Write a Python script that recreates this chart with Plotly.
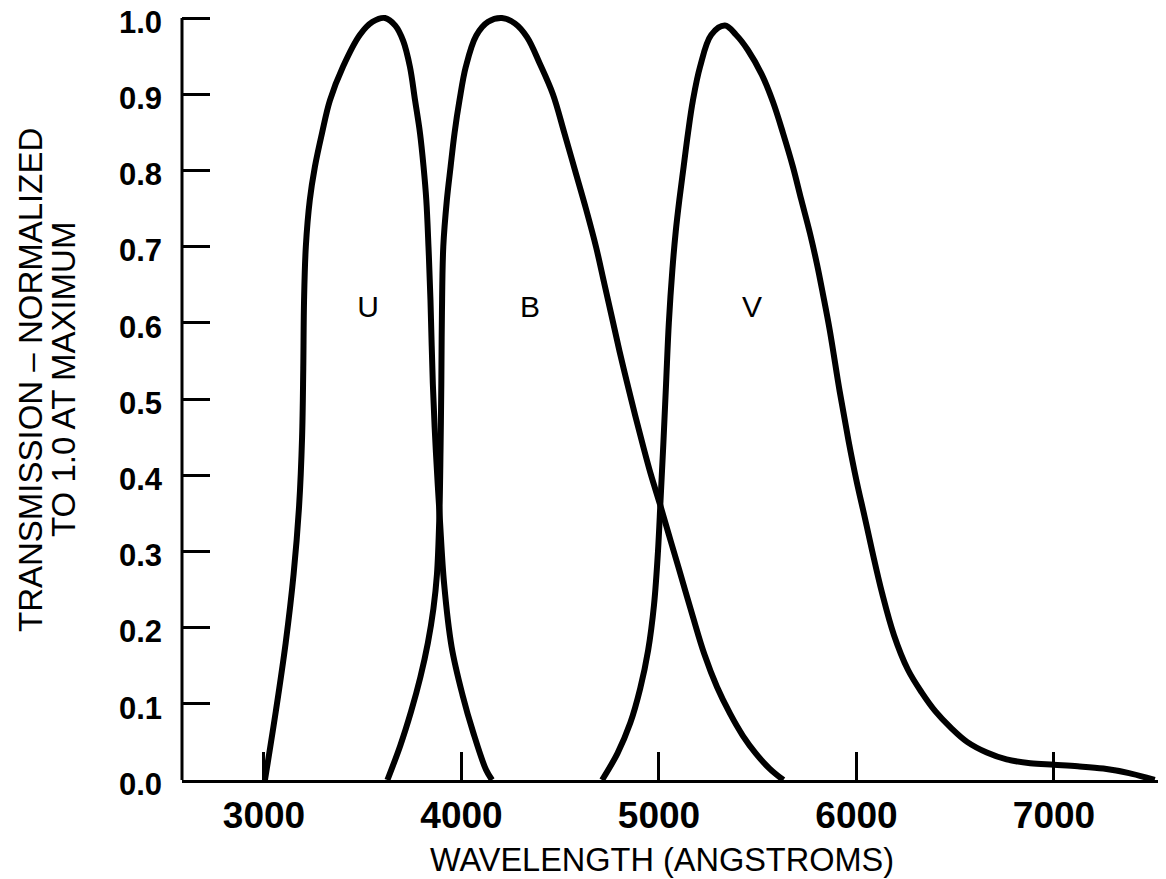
import plotly.graph_objects as go

# ---- data (wavelength in Angstroms, normalized transmission) ----
u_wave = [3005, 3060, 3110, 3150, 3178, 3193, 3199, 3203, 3212, 3232, 3258, 3294, 3334,
          3400, 3486, 3550, 3613, 3665, 3705, 3739, 3765, 3790, 3808, 3822, 3833, 3843,
          3855, 3870, 3890, 3912, 3950, 4005, 4060, 4125, 4155]
u_trans = [0.0, 0.09, 0.18, 0.27, 0.36, 0.45, 0.54, 0.63, 0.70, 0.761, 0.805, 0.849, 0.892,
           0.936, 0.978, 0.995, 1.0, 0.99, 0.97, 0.936, 0.892, 0.849, 0.805, 0.761, 0.70, 0.63,
           0.52, 0.433, 0.345, 0.258, 0.175, 0.112, 0.062, 0.013, 0.0]

b_wave = [3625, 3690, 3745, 3792, 3830, 3858, 3876, 3888, 3894, 3898, 3901, 3908, 3926, 3945,
          3965, 3990, 4022, 4075, 4135, 4205, 4270, 4332, 4397, 4463, 4520, 4575, 4630, 4681,
          4722, 4762, 4800, 4838, 4880, 4920, 4960, 5005, 5050, 5100, 5172, 5230, 5294, 5360,
          5425, 5490, 5560, 5630]
b_trans = [0.0, 0.045, 0.09, 0.135, 0.18, 0.225, 0.27, 0.345, 0.433, 0.52, 0.61, 0.70, 0.761, 0.805,
           0.849, 0.892, 0.936, 0.977, 0.995, 1.0, 0.993, 0.975, 0.94, 0.90, 0.85, 0.80, 0.75, 0.70,
           0.653, 0.607, 0.563, 0.522, 0.478, 0.438, 0.40, 0.362, 0.322, 0.278, 0.214, 0.165, 0.122, 0.087,
           0.058, 0.035, 0.015, 0.0]

v_wave = [4712, 4790, 4855, 4905, 4945, 4975, 4995, 5008, 5022, 5036, 5050, 5068, 5085, 5103,
          5125, 5147, 5172, 5208, 5265, 5334, 5390, 5450, 5522, 5577, 5628, 5678, 5720, 5765,
          5800, 5830, 5865, 5915, 5960, 6000, 6040, 6080, 6130, 6190, 6260, 6330, 6400, 6480,
          6560, 6660, 6760, 6880, 7000, 7120, 7250, 7380, 7510]
v_trans = [0.0, 0.035, 0.075, 0.12, 0.17, 0.23, 0.30, 0.367, 0.44, 0.52, 0.60, 0.67, 0.72, 0.761,
           0.805, 0.849, 0.892, 0.936, 0.978, 0.99, 0.978, 0.958, 0.925, 0.89, 0.849, 0.805, 0.762, 0.717,
           0.677, 0.638, 0.59, 0.51, 0.445, 0.393, 0.347, 0.30, 0.245, 0.19, 0.145, 0.115, 0.09, 0.068,
           0.05, 0.036, 0.027, 0.022, 0.02, 0.018, 0.015, 0.009, 0.0]

band_names = ["U", "B", "V"]
band_label_wave = [3527, 4347, 5471]
band_label_trans = [0.617, 0.617, 0.617]

x_ticks = [3000, 4000, 5000, 6000, 7000]
y_ticks = [0.0, 0.1, 0.2, 0.3, 0.4, 0.5, 0.6, 0.7, 0.8, 0.9, 1.0]
y_ticktext = ["0.0", "0.1", "0.2", "0.3", "0.4", "0.5", "0.6", "0.7", "0.8", "0.9", "1.0"]

FONT = "Liberation Sans, Arial, Helvetica, sans-serif"

# page body has an 8px default margin; figure size/margins compensate for it
W, H = 1158, 871
ML, MR, MT, MB = 174, 4, 2, 99
PW, PH = W - ML - MR, H - MT - MB


def px_x(px):  # page pixel -> paper x
    return (px - 8 - ML) / PW


def px_y(py):  # page pixel -> paper y
    return (H - MB - (py - 8)) / PH


fig = go.Figure()
for xs, ys in [(u_wave, u_trans), (b_wave, b_trans), (v_wave, v_trans)]:
    fig.add_trace(go.Scatter(
        x=xs, y=ys, mode="lines",
        line=dict(color="black", width=6, shape="spline", smoothing=1.0),
        hoverinfo="skip", showlegend=False))

fig.add_trace(go.Scatter(
    x=band_label_wave, y=band_label_trans, mode="text", text=band_names,
    textfont=dict(family=FONT, size=30, color="black"),
    hoverinfo="skip", showlegend=False))

# y-axis line from 0.0 up to 1.0
fig.add_shape(type="line", xref="paper", yref="y", x0=0, x1=0, y0=0, y1=1.0,
              line=dict(color="black", width=3))

fig.update_layout(
    width=W, height=H,
    margin=dict(l=ML, r=MR, t=MT, b=MB, autoexpand=False),
    paper_bgcolor="white", plot_bgcolor="white",
    xaxis=dict(
        range=[2585, 7547], tickmode="array", tickvals=x_ticks,
        ticks="inside", ticklen=28, tickwidth=3, tickcolor="black",
        showline=True, linewidth=3, linecolor="black",
        showgrid=False, zeroline=False, automargin=False,
        tickfont=dict(family=FONT, size=37, color="black", weight="bold"),
        ticklabelstandoff=1, ticklabeloverflow="allow",
    ),
    yaxis=dict(
        range=[0, 1.0105], tickmode="array", tickvals=y_ticks, ticktext=y_ticktext,
        ticks="inside", ticklen=28, tickwidth=3, tickcolor="black",
        showline=False, showgrid=False, zeroline=False, automargin=False,
        tickfont=dict(family=FONT, size=31, color="black", weight="bold"),
        ticklabelstandoff=19, ticklabeloverflow="allow", ticklabelshift=4,
    ),
    annotations=[
        dict(text="WAVELENGTH (ANGSTROMS)", xref="paper", yref="paper",
             x=px_x(662), y=px_y(860), xanchor="center", yanchor="middle",
             showarrow=False, font=dict(family=FONT, size=32.5, color="black")),
        dict(text="TRANSMISSION – NORMALIZED", xref="paper", yref="paper",
             x=px_x(30), y=px_y(380), xanchor="center", yanchor="middle",
             textangle=-90, showarrow=False, font=dict(family=FONT, size=33, color="black")),
        dict(text="TO 1.0 AT MAXIMUM", xref="paper", yref="paper",
             x=px_x(63), y=px_y(380), xanchor="center", yanchor="middle",
             textangle=-90, showarrow=False, font=dict(family=FONT, size=33, color="black")),
    ],
)

fig.write_html("out.html")
